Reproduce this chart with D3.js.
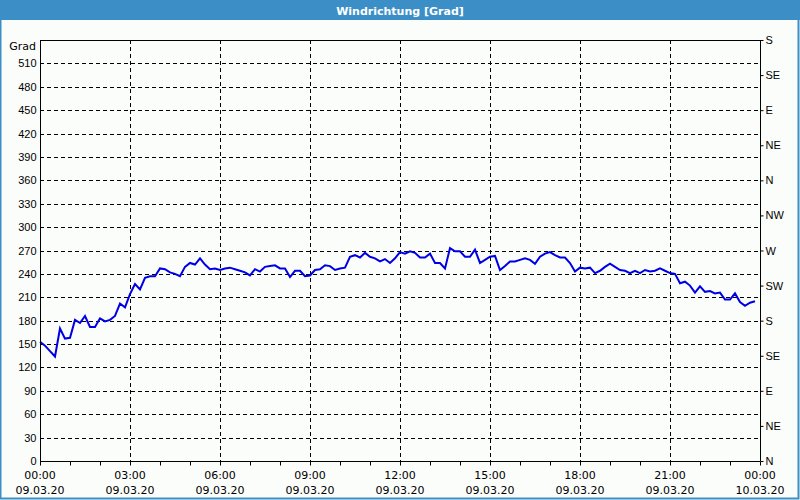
<!DOCTYPE html>
<html>
<head>
<meta charset="utf-8">
<script src="https://cdn.jsdelivr.net/npm/d3@7"></script>
<style>
  body { margin: 0; background: #fbfdfb; }
  svg { display: block; font-family: "DejaVu Sans", sans-serif; }
</style>
</head>
<body>
<svg id="chart" width="800" height="500"></svg>
<script>
// Windrichtung, 10-Minuten-Werte vom 09.03.20 00:00 bis 23:50
const startTime = new Date(2020, 2, 9, 0, 0);
const endTime = new Date(2020, 2, 10, 0, 0);
const values = [
  153, 148, 141, 134, 170, 157, 158, 181, 177, 186, 172, 172,
  183, 179, 181, 186, 202, 197, 214, 227, 220, 235, 237, 237,
  247, 246, 242, 240, 237, 249, 254, 252, 260, 252, 246, 247,
  245, 247, 248, 246, 244, 242, 238, 246, 243, 249, 250, 251,
  247, 247, 236, 244, 244, 237, 238, 245, 246, 251, 250, 245,
  247, 248, 262, 264, 261, 267, 262, 260, 256, 259, 254, 260,
  268, 266, 269, 267, 261, 261, 266, 254, 254, 247, 273, 269,
  269, 262, 262, 271, 254, 258, 262, 263, 245, 250, 256, 256,
  258, 260, 258, 253, 262, 266, 268, 264, 261, 261, 254, 243,
  248, 247, 248, 241, 244, 249, 253, 249, 245, 244, 241, 244,
  241, 245, 243, 244, 247, 244, 241, 240, 228, 230, 225, 216,
  224, 217, 218, 215, 216, 207, 207, 215, 204, 199, 203, 205
];
const leftTicks = d3.range(0, 511, 30);
const compassTicks = d3.range(0, 541, 45);
const compassLabels = ["N", "NE", "E", "SE", "S", "SW", "W", "NW", "N", "NE", "E", "SE", "S"];

let margin = { top: 40, right: 40, bottom: 39, left: 40 };
let width = 800 - margin.left - margin.right;
let height = 500 - margin.top - margin.bottom;

let svg = d3.select("#chart");

// Fensterrahmen + Titelleiste
svg.append("rect")
  .attr("x", 0).attr("y", 0).attr("width", 800).attr("height", 500)
  .attr("fill", "#fbfdfb");
svg.append("rect")
  .attr("x", 0.5).attr("y", 0.5).attr("width", 798).attr("height", 498)
  .attr("fill", "none").attr("stroke", "#3c8fc6").attr("stroke-width", 2);
svg.append("rect")
  .attr("x", 0).attr("y", 0).attr("width", 800).attr("height", 20)
  .attr("fill", "#3c8fc6");
svg.append("text")
  .attr("x", 400).attr("y", 14.5)
  .attr("text-anchor", "middle")
  .attr("fill", "#fff")
  .style("font-size", "11px")
  .style("font-weight", "bold")
  .text("Windrichtung [Grad]");

let x = d3.scaleTime().domain([startTime, endTime]).range([0, width]);
let y = d3.scaleLinear().domain([0, 540]).range([height, 0]);

let g = svg.append("g")
  .attr("transform", "translate(" + margin.left + "," + margin.top + ")");

// Gitter
g.append("g")
  .selectAll("line")
  .data(leftTicks)
  .enter().append("line")
  .attr("x1", 0).attr("x2", width)
  .attr("y1", d => Math.round(y(d)) + 0.5)
  .attr("y2", d => Math.round(y(d)) + 0.5)
  .attr("stroke", "#000")
  .attr("stroke-dasharray", "4,3");

let gridTimes = d3.timeHour.every(3).range(startTime, endTime).slice(1);
g.append("g")
  .selectAll("line")
  .data(gridTimes)
  .enter().append("line")
  .attr("x1", d => Math.round(x(d)) + 0.5)
  .attr("x2", d => Math.round(x(d)) + 0.5)
  .attr("y1", 0).attr("y2", height)
  .attr("stroke", "#000")
  .attr("stroke-dasharray", "4,3");

// Datenlinie
let line = d3.line()
  .x((d, i) => x(d3.timeMinute.offset(startTime, i * 10)))
  .y(d => y(d));

g.append("path")
  .datum(values)
  .attr("fill", "none")
  .attr("stroke", "#0000e6")
  .attr("stroke-width", 2)
  .attr("d", line);

// Rahmen
g.append("line")
  .attr("x1", 0).attr("x2", width).attr("y1", 0.5).attr("y2", 0.5)
  .attr("stroke", "#000");

// Linke Achse
let yAxis = d3.axisLeft(y).tickValues(leftTicks).tickSize(0).tickPadding(4);
let ya = g.append("g").attr("transform", "translate(0.5,0)").call(yAxis);
ya.select(".domain").attr("stroke", "#000").attr("d", "M0,0V" + height);
ya.selectAll("text").style("font-size", "11px").attr("fill", "#000");
g.append("text")
  .attr("x", -4).attr("y", 10)
  .attr("text-anchor", "end")
  .style("font-size", "11px")
  .text("Grad");

// Rechte Achse (Himmelsrichtungen)
let yAxisR = d3.axisRight(y).tickValues(compassTicks)
  .tickFormat((d, i) => compassLabels[i]).tickSize(3).tickPadding(2);
let yr = g.append("g").attr("transform", "translate(" + (width + 0.5) + ",0)").call(yAxisR);
yr.select(".domain").attr("d", "M0,0V" + height);
yr.selectAll("text").style("font-size", "11px").attr("fill", "#000");

// Zeitachse
let hourTicks = d3.timeHour.every(1).range(startTime, d3.timeMinute.offset(endTime, 1));
let xAxis = d3.axisBottom(x).tickValues(hourTicks).tickSize(4).tickFormat("");
let xa = g.append("g").attr("transform", "translate(0," + (height + 0.5) + ")").call(xAxis);
xa.select(".domain").attr("d", "M0,0H" + (width + 0.5));

let labelTimes = d3.timeHour.every(3).range(startTime, d3.timeMinute.offset(endTime, 1));
let fmtTime = d3.timeFormat("%H:%M");
let fmtDate = d3.timeFormat("%d.%m.%y");
let lbl = g.append("g").attr("transform", "translate(0," + height + ")")
  .selectAll("g")
  .data(labelTimes)
  .enter().append("g")
  .attr("transform", d => "translate(" + x(d) + ",0)");
lbl.append("text")
  .attr("y", 18).attr("text-anchor", "middle")
  .style("font-size", "11px")
  .text(d => fmtTime(d));
lbl.append("text")
  .attr("y", 33).attr("text-anchor", "middle")
  .style("font-size", "11px")
  .text(d => fmtDate(d));
</script>
</body>
</html>
